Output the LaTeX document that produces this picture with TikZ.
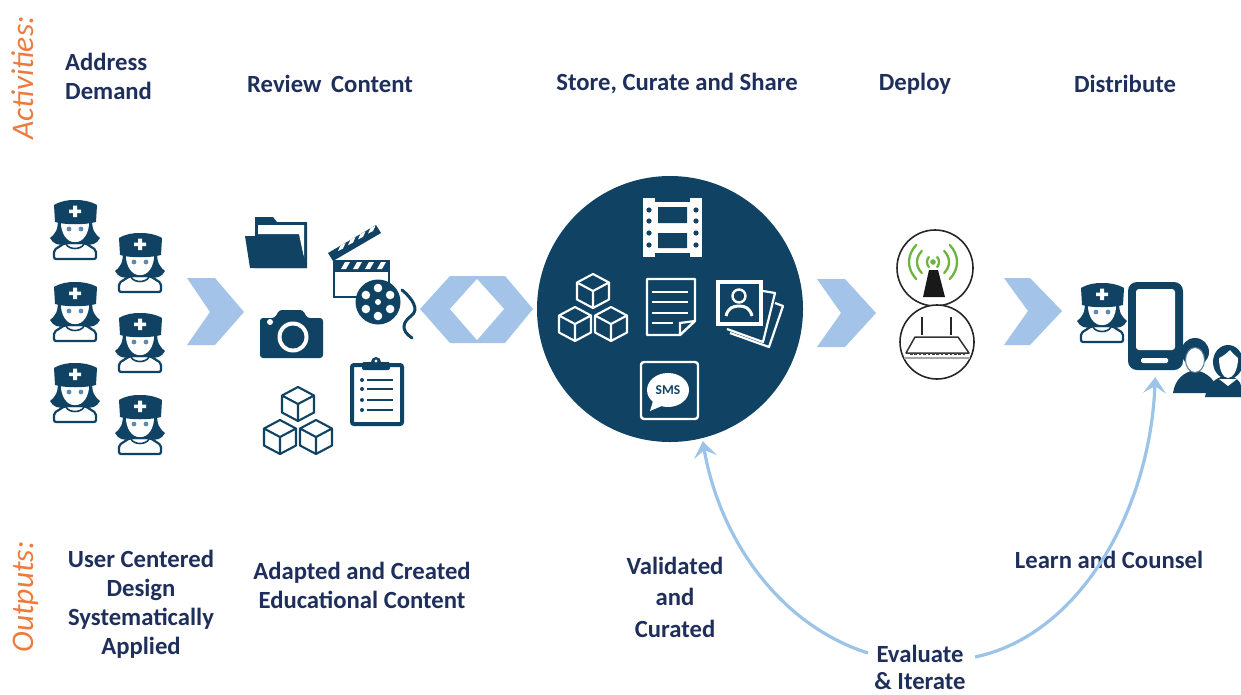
\documentclass[tikz,border=0pt]{standalone}
\usepackage{fontspec}
\setmainfont{Carlito}
\usetikzlibrary{arrows.meta}
\definecolor{navy}{HTML}{0F4263}
\definecolor{txt}{HTML}{1F2F5C}
\definecolor{chev}{HTML}{A3C3E8}
\definecolor{arc}{HTML}{9CC3E8}
\definecolor{org}{HTML}{EE7B3C}
\definecolor{wifi}{HTML}{6DB33F}
\tikzset{
 lab/.style={font=\fontsize{24.7}{29}\selectfont\bfseries,text=txt,align=center,inner sep=0pt},
 side/.style={font=\fontsize{31.5}{32}\selectfont\itshape,text=org,rotate=90,inner sep=0pt},
 chevron/.style={fill=chev,draw=none},
 loop/.style={draw=arc,line width=3.2pt,-{Stealth[length=16pt,width=23pt,inset=7pt]}},
 nurse/.pic={
  \draw[draw=navy,fill=white,line width=2.2pt,rounded corners=2pt] (-21,59)--(-21,50)--(-10,43)--(10,43)--(21,50)--(21,59)--cycle;
  \fill[navy] (-17,18) .. controls (-17,30) and (-19,33) .. (-25,38) .. controls (-22,44) and (-16,46) .. (-10,44) -- (10,44) .. controls (16,46) and (22,44) .. (25,38) .. controls (19,33) and (17,30) .. (17,18) -- cycle;
  \draw[draw=navy,fill=white,line width=1.4pt] (-15,21) .. controls (-15,34) and (-9,43) .. (0,43) .. controls (9,43) and (15,34) .. (15,21) -- cycle;
  \draw[navy,line width=1.6pt] (-9,44) .. controls (-6,50) and (6,50) .. (9,44);
  \fill[chev!55!navy] (-6,29) circle (2.4) (6,29) circle (2.4);
  \fill[navy] (-21,5) .. controls (-14,1) and (-8,0) .. (0,0) .. controls (8,0) and (15,1) .. (22,5) -- (21,22) .. controls (10,25) and (-10,25) .. (-20,22) -- cycle;
  \fill[white] (-2,5.5)--(2,5.5)--(2,9.5)--(6,9.5)--(6,13)--(2,13)--(2,17)--(-2,17)--(-2,13)--(-6,13)--(-6,9.5)--(-2,9.5)--cycle;
 },
 onecube/.pic={
  \draw[line width=2.1pt,line join=round] (0,-17)--(16,-8.5)--(16,8.5)--(0,17)--(-16,8.5)--(-16,-8.5)--cycle (-16,-8.5)--(0,0)--(16,-8.5) (0,0)--(0,17);
 },
 cubes/.pic={
  \pic at (0,-17) {onecube};
  \pic at (-18,16) {onecube};
  \pic at (18,16) {onecube};
 }
}
\begin{document}
\begin{tikzpicture}[x=1pt,y=-1pt]
\useasboundingbox (0,0) rectangle (1241,694);
\fill[white] (0,0) rectangle (1241,694);
% side labels
\node[side] (act) at (23,78) {Activities:};
\node[side] (out) at (26,597) {Outputs:};
% headings
\node[lab,align=left,anchor=west] (t1) at (65,76) {Address\\Demand};
\node[lab] (t2) at (330,84) {Review\, Content};
\node[lab] (t3) at (677,84) {Store, Curate and Share};
\node[lab] (t4) at (915,84) {Deploy};
\node[lab] (t5) at (1125,84) {Distribute};
% outputs
\node[lab] (o1) at (141,604) {User Centered\\Design\\Systematically\\Applied};
\node[lab] (o2) at (362,585) {Adapted and Created\\Educational Content};
\node[lab,font=\fontsize{24.7}{31.5}\selectfont\bfseries] (o3) at (675,597) {Validated\\and\\Curated};
\node[lab] (o4) at (1109,560) {Learn and Counsel};
\node[lab,font=\fontsize{24.7}{27}\selectfont\bfseries] (o5) at (920,667) {Evaluate\\\& Iterate};
% nurses
\foreach \x/\y in {75/200,140/233,75/282,140/313,75/363,140/395,1102/283} \pic at (\x,\y) {nurse};
% chevrons
\fill[chevron] (187,278)--(215,278)--(244,312)--(215,345)--(187,345)--(210,312)--cycle;
\fill[chevron] (420,309)--(450,276)--(505,276)--(533,309)--(505,343)--(450,343)--cycle;
\fill[white] (450,309)--(477,279)--(504,309)--(477,340)--cycle;
\fill[chevron] (817,279)--(845,279)--(876,313)--(845,347)--(817,347)--(841,313)--cycle;
\fill[chevron] (1004,278)--(1030,278)--(1062,311)--(1030,345)--(1004,345)--(1028,311)--cycle;
% folder
\fill[navy] (255,217)--(273,217)--(277,222)--(307,222)--(307,268)--(255,268)--cycle;
\fill[white] (258,225)--(304,225)--(304,258)--(299,234)--(258,234)--cycle;
\fill[navy] (245,236)--(298,236)--(307,268)--(250,268)--cycle;
% clapper
\draw[navy,line width=2.4pt] (334,271) rectangle (389,297);
\fill[navy] (333,260) rectangle (390,271);
\foreach \i in {0,1,2,3} \fill[white] (341+\i*12,269)--(345+\i*12,262)--(350+\i*12,262)--(346+\i*12,269)--cycle;
\fill[navy] (328,253)--(376,225)--(381,233)--(333,261)--cycle;
\foreach \i in {0,1,2,3} \fill[white] (338+\i*10,251-\i*5.8)--(343+\i*10,248.5-\i*5.8)--(345.5+\i*10,243-\i*5.8)--(340.5+\i*10,245.5-\i*5.8)--cycle;
\fill[navy] (378,302) circle (22.5);
\fill[white] (378,302) circle (3);
\foreach \a in {30,90,150,210,270,330} \fill[white] (378,302) ++(\a:14) circle (4.3);
\draw[navy,line width=3pt,line cap=round] (402,290) .. controls (412,298) and (420,310) .. (411,316) .. controls (403,322) and (400,330) .. (412,338);
% camera
\fill[navy,rounded corners=3pt] (260,318)--(275,318)--(279,310)--(303,310)--(307,318)--(323,318)--(323,358)--(260,358)--cycle;
\fill[white] (293,337) circle (15.5);
\fill[navy] (293,337) circle (11.5);
\fill[white] (270,322) circle (3);
% cubes
\pic[color=navy] at (298,421) {cubes};
% clipboard
\draw[navy,fill=white,line width=4pt,rounded corners=2pt] (352,365) rectangle (402,424);
\fill[navy,rounded corners=2pt] (362,362) rectangle (390,370);
\fill[navy] (376,362) circle (5);
\fill[white] (376,361) circle (1.6);
\foreach \y in {380,389,400,410} {\fill[navy] (362,\y) circle (2); \draw[navy,line width=2.3pt] (367,\y)--(393,\y);}
% store circle
\node[circle,fill=navy,minimum size=266pt,inner sep=0pt] (store) at (670,309) {};
% film
\fill[white] (643,198) rectangle (702,257);
\fill[navy] (658,207) rectangle (687,223) (658,233) rectangle (687,248);
\foreach \y in {210,221,233,245} \fill[navy] (649,\y) circle (2.6) (696,\y) circle (2.6);
\fill[navy] (655,198) rectangle (690,202);
\fill[navy] (655,253) rectangle (690,257);
% white cubes
\pic[color=white] at (593,308) {cubes};
% document
\draw[white,line width=2.4pt,line join=round] (647,279)--(695,279)--(695,321)--(680,335)--(647,335)--cycle;
\draw[white,line width=2.2pt] (680,335)--(680,323)--(695,321);
\foreach \y in {292,302,313} \draw[white,line width=2.4pt] (652,\y)--(688,\y);
\draw[white,line width=2.4pt] (652,323)--(673,323);
% photos
\draw[white,line width=2.2pt,line join=round] (763,291)--(775,293)--(763,342)--(727,329);
\draw[white,line width=2.2pt,line join=round] (775,303)--(783,306)--(769,347)--(730,333);
\draw[white,line width=3.5pt,line join=miter] (718,282) rectangle (761,324);
\draw[white,line width=2.4pt] (739,296) circle (6.5);
\draw[white,line width=3pt] (726,316) .. controls (728,308) and (733,306) .. (739,306) .. controls (745,306) and (750,308) .. (752,316);
% sms
\draw[white,line width=2.4pt,rounded corners=3pt] (641,362) rectangle (698,419);
\fill[white] (668,390) ellipse (21 and 17);
\fill[white] (654,398)--(650,411)--(664,405)--cycle;
\node[font=\fontsize{13.5}{13.5}\selectfont\bfseries,text=navy,inner sep=0pt] (sms) at (668,390) {SMS};
% deploy
\node[circle,draw=black!85,fill=white,line width=1.6pt,minimum size=76pt,inner sep=0pt] (ant) at (935,268) {};
\node[circle,draw=black!85,fill=white,line width=1.6pt,minimum size=74pt,inner sep=0pt] (rou) at (937,342) {};
\fill[wifi] (933,262) circle (2.8);
\foreach \d/\h in {6/5,16/11,24/17} {
 \draw[wifi,line width=2.3pt,line cap=round] (933+\d*.7,262-\h) .. controls (933+\d*1.1,262-\h*.4) and (933+\d*1.1,262+\h*.4) .. (933+\d*.7,262+\h);
 \draw[wifi,line width=2.3pt,line cap=round] (933-\d*.7,262-\h) .. controls (933-\d*1.1,262-\h*.4) and (933-\d*1.1,262+\h*.4) .. (933-\d*.7,262+\h);
}
\fill[black!90] (929,270)--(938,270)--(945,297)--(923,297)--cycle;
\draw[black!85,line width=2pt] (922,317)--(922,335) (951,317)--(951,335);
\draw[black!80,line width=1.5pt,line join=round] (906,353)--(915,337)--(958,337)--(969,353)--cycle;
\draw[black!75,line width=2.6pt,dash pattern=on 2.6pt off 1.8pt] (910,354)--(965,354);
\draw[black!35,line width=1.6pt] (904,358)--(970,358);
% people
\fill[navy] (1173,393) .. controls (1175,379) and (1184,372) .. (1195,370) .. controls (1206,372) and (1216,379) .. (1218,393) -- cycle;
\fill[navy] (1195,352) ellipse (14 and 14);
\draw[navy!70,fill=white,line width=1pt] (1195,360) ellipse (9.5 and 12.5);
\fill[navy] (1205,397) .. controls (1207,384) and (1216,377) .. (1228,375) .. controls (1236,377) and (1241,382) .. (1241,386) -- (1241,397) -- cycle;
\fill[navy] (1228,362) ellipse (15 and 17);
\fill[white] (1219,379)--(1237,379)--(1228,386)--cycle;
\fill[white] (1219,358) .. controls (1224,356) and (1228,352) .. (1230,350) .. controls (1233,354) and (1236,356) .. (1238,358) .. controls (1238,370) and (1233,378) .. (1228,378) .. controls (1223,378) and (1219,370) .. (1219,358) -- cycle;
% phone
\node[draw=none,fill=navy,rounded corners=9pt,minimum width=55pt,minimum height=88pt,inner sep=0pt] (phone) at (1155.5,326) {};
\fill[white,rounded corners=3pt] (1136,289) rectangle (1175,350);
\fill[white,rounded corners=1.5pt] (1141,358) rectangle (1168,363);
% loops
\coordinate (e1) at (868,653);
\coordinate (e2) at (975,657);
\draw[loop,shorten >=3pt] (e1) .. controls (780,625) and (720,540) .. (store.-76.6);
\draw[loop,shorten >=7pt] (e2) .. controls (1080,635) and (1150,510) .. (phone.south);
\end{tikzpicture}
\end{document}
